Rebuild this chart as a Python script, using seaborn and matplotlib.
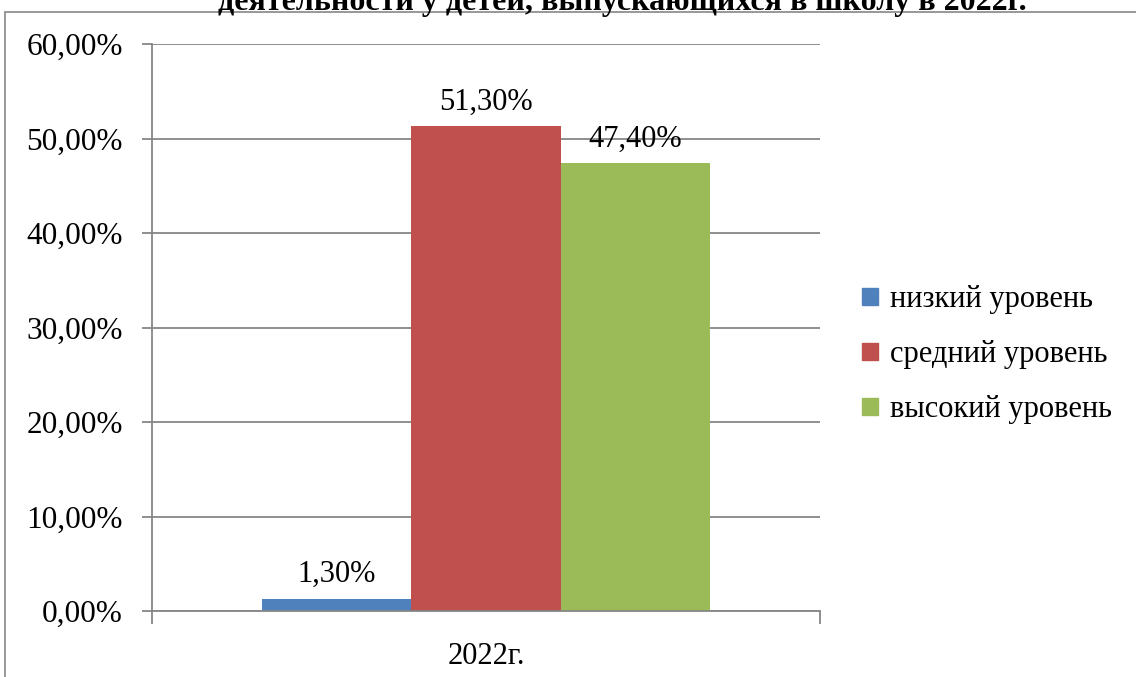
import matplotlib
matplotlib.use("Agg")
import matplotlib.pyplot as plt
import matplotlib.patches as mpatches
from matplotlib.ticker import FuncFormatter, FixedLocator
import seaborn as sns
import pandas as pd

categories = ["2022г."]
levels = ["низкий уровень", "средний уровень", "высокий уровень"]
values = [1.3, 51.3, 47.4]
colors = ["#4F81BD", "#C0504D", "#9BBB59"]
title = "деятельности у детей, выпускающихся в школу в 2022г."

sns.set_theme(style="white")
plt.rcParams['font.family'] = ['Liberation Serif', 'DejaVu Serif']
plt.rcParams['text.color'] = 'black'
plt.rcParams['xtick.labelcolor'] = 'black'
plt.rcParams['ytick.labelcolor'] = 'black'

df = pd.DataFrame({"year": categories * len(levels), "level": levels, "value": values})

fig = plt.figure(figsize=(11.36, 6.77), dpi=100)
ax = fig.add_axes([152/1136, 1-611/677, (820-152)/1136, (611-44)/677])

sns.barplot(data=df, x="year", y="value", hue="level", hue_order=levels,
            palette=colors, width=0.67, saturation=1, ax=ax, legend=False, linewidth=0)

ax.set_xlim(-0.5, 0.5)
ax.set_ylim(0, 60)
ax.set_yticks([0, 10, 20, 30, 40, 50, 60])
ax.yaxis.set_major_formatter(FuncFormatter(lambda v, p: f"{v:.2f}%".replace(".", ",")))
ax.grid(axis="y", color="#868686", lw=1.3)
ax.set_axisbelow(True)
ax.set_xlabel("")
ax.set_ylabel("")
for s in ["top", "right"]:
    ax.spines[s].set_visible(False)
for s in ["left", "bottom"]:
    ax.spines[s].set_color("#868686")
    ax.spines[s].set_linewidth(1.3)

ax.tick_params(axis="y", length=7, width=1.3, color="#868686", labelsize=22.5, pad=14, left=True)
ax.tick_params(axis="x", which="major", length=0, labelsize=22, pad=22)
ax.xaxis.set_minor_locator(FixedLocator([-0.5, 0.5]))
ax.tick_params(axis="x", which="minor", length=9, width=1.3, color="#868686", bottom=True)

for cont in ax.containers:
    ax.bar_label(cont, labels=[f"{v:.2f}%".replace(".", ",") for v in cont.datavalues],
                 fontsize=22, padding=7, color="black")

handles = [mpatches.Patch(color=c, label=l) for c, l in zip(colors, levels)]
ax.legend(handles=handles, loc="center left", bbox_to_anchor=(1.045, 0.452),
          frameon=False, fontsize=22, handlelength=0.5, handleheight=0.5,
          handletextpad=0.4, labelspacing=0.85, borderaxespad=0, labelcolor="black")

fig.add_artist(mpatches.Rectangle((5/1136, -0.1), 1.2, 1.1 - 12/677, transform=fig.transFigure,
                                  fill=False, edgecolor="#868686", lw=1.2))
fig.text(0.548, 1-10/677, title, ha="center", va="baseline", fontsize=23, fontweight="bold")

fig.savefig("out.png", dpi=100)
